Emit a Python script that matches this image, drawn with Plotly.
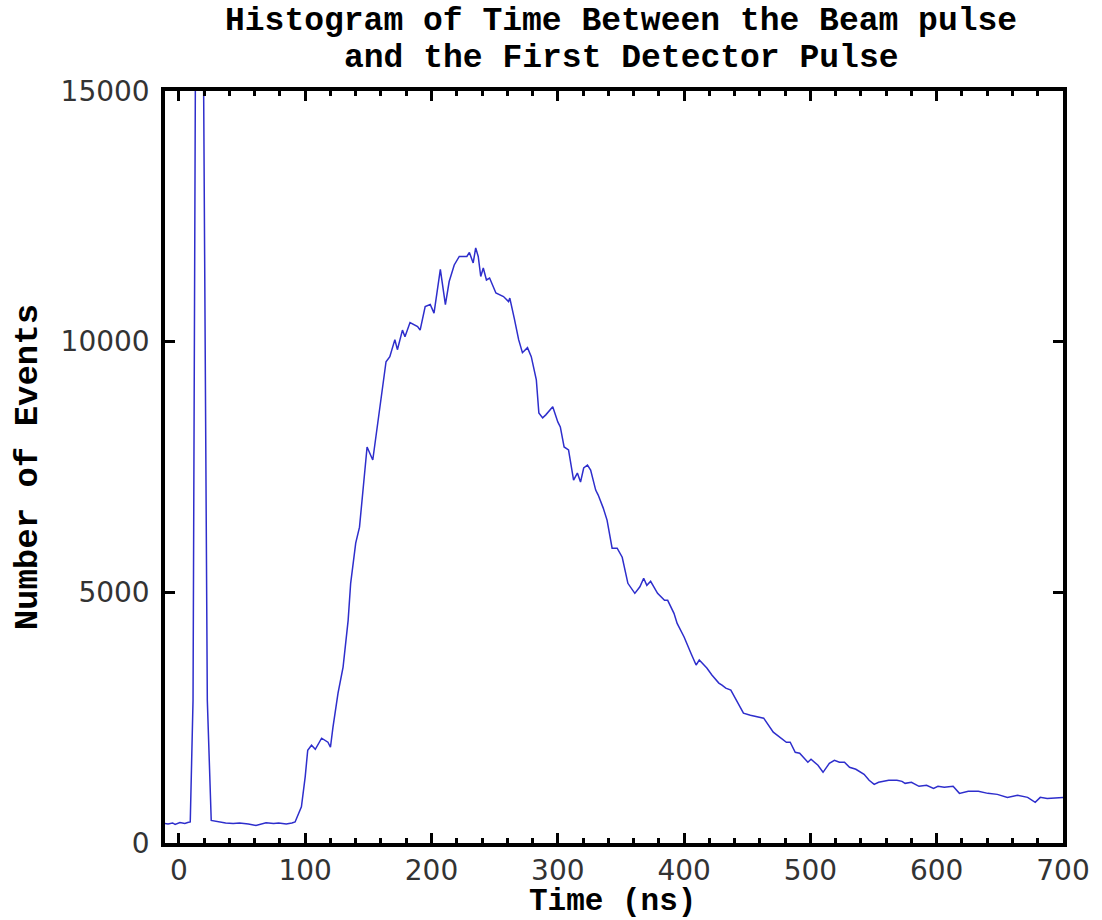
import plotly.graph_objects as go

# Data
time_ns = [-11, -8.6, -5, -3, 0.8, 4.7, 7, 9, 11.2, 13.1, 16, 19.6, 22.5, 25.6, 28, 33, 37, 43, 48, 55,
           61, 69, 75, 79, 85, 89.5, 92, 97, 100, 102, 105, 108, 113, 118, 120, 122, 126, 130, 134, 136,
           140, 143, 146, 149, 153.5, 156, 160, 164, 167, 171, 173, 177, 179, 183, 189, 191, 195, 199, 202, 207,
           211, 214, 218, 222, 228, 230, 233, 235, 237, 239, 241, 243.5, 246, 251, 257, 261, 262, 263, 265.5, 269,
           272, 276, 279, 283, 285, 288, 290.5, 296, 300, 302, 305, 308.5, 312.5, 315.5, 318, 320.5, 323.5, 326, 330, 332,
           336, 339, 343, 347, 351, 355.5, 361, 365, 368, 370.5, 373.5, 379, 384.5, 387, 392, 394.5, 400, 405.5, 409.5, 412,
           418, 422, 427.5, 430, 433, 437, 441.5, 447, 452.5, 457, 463, 470.6, 476, 481, 484, 488, 491.5, 498, 500.5, 506,
           510, 512, 515, 519, 523, 527, 531, 536, 542.5, 546.5, 550.5, 554, 562, 568.5, 572.5, 575, 580, 586, 592, 597.5,
           601, 606, 613, 618, 625, 633, 640.5, 648, 656, 664, 672, 678, 682, 687.5, 697.5, 700]

counts = [390, 380, 400, 370, 410, 390, 410, 420, 2850, 15000, 35000, 15000, 2850, 450, 440, 410, 400, 390, 400, 380,
          350, 405, 390, 400, 380, 400, 420, 720, 1320, 1850, 1950, 1870, 2090, 2010, 1910, 2310, 2990, 3510, 4440, 5180,
          5980, 6300, 7180, 7900, 7640, 8100, 8780, 9600, 9700, 10040, 9840, 10230, 10100, 10380, 10300, 10230, 10700, 10740, 10570, 11440,
          10740, 11200, 11530, 11700, 11700, 11780, 11570, 11870, 11700, 11300, 11470, 11230, 11270, 10970, 10900, 10800, 10870, 10740, 10470, 10040,
          9780, 9880, 9700, 9240, 8580, 8480, 8540, 8700, 8400, 8300, 7900, 7840, 7240, 7380, 7200, 7480, 7540, 7440, 7040, 6940,
          6680, 6440, 5880, 5880, 5700, 5180, 4980, 5110, 5280, 5140, 5220, 4980, 4840, 4840, 4580, 4380, 4110, 3780, 3550, 3650,
          3490, 3350, 3190, 3150, 3090, 3050, 2850, 2590, 2550, 2530, 2490, 2210, 2100, 2010, 2010, 1810, 1790, 1610, 1670, 1550,
          1410, 1490, 1590, 1650, 1610, 1610, 1510, 1470, 1370, 1250, 1170, 1210, 1250, 1250, 1230, 1190, 1210, 1130, 1150, 1090,
          1130, 1110, 1130, 990, 1030, 1030, 990, 970, 910, 950, 910, 810, 910, 890, 910, 910]

x_ticks = [0, 100, 200, 300, 400, 500, 600, 700]
y_ticks = [0, 5000, 10000, 15000]

title_line1 = "Histogram of Time Between the Beam pulse"
title_line2 = "and the First Detector Pulse"
x_title = "Time (ns)"
y_title = "Number of Events"

mono = "Liberation Mono, Courier New, monospace"
tickfont = dict(family="DejaVu Sans, sans-serif", size=28, color="#333333")
titlefont = dict(family=mono, size=33, color="black", weight="bold")
ytitlefont = dict(family=mono, size=34, color="black", weight="bold")
xtitlefont = dict(family=mono, size=31, color="black", weight="bold")

fig = go.Figure(go.Scatter(x=time_ns, y=counts, mode="lines",
                           line=dict(color="#2e2ecc", width=1.5), showlegend=False))

axis_common = dict(showline=True, linewidth=3.5, linecolor="black", mirror="ticks",
                   ticks="inside", ticklen=10, tickwidth=3, tickcolor="black",
                   showgrid=False, zeroline=False, tickfont=tickfont)

fig.update_xaxes(range=[-11, 700], tickvals=x_ticks, tickformat="d", ticklabelstandoff=0,
                 minor=dict(tick0=0, dtick=20, ticks="inside", ticklen=5, tickwidth=3, tickcolor="black"),
                 **axis_common)
fig.update_yaxes(range=[0, 15000], tickvals=y_ticks, tickformat="d", ticklabelstandoff=6, **axis_common)

W, H = 1102, 920
L, R, T, B = 165, 30, 91, 77
pw, ph = W - L - R, H - T - B

def px_to_paper(x, y):
    return (x - L) / pw, (H - B - y) / ph

annos = []
for text, (cx, cy), f in [(title_line1, (626, 21), titlefont), (title_line2, (626, 59), titlefont),
                          (x_title, (617, 901), xtitlefont)]:
    px, py = px_to_paper(cx, cy)
    annos.append(dict(text=text, x=px, y=py, xref="paper", yref="paper", showarrow=False,
                      xanchor="center", yanchor="middle", font=f))
px, py = px_to_paper(27, 467)
annos.append(dict(text=y_title, x=px, y=py, xref="paper", yref="paper", showarrow=False,
                  xanchor="center", yanchor="middle", textangle=-90, font=ytitlefont))

fig.update_layout(width=W, height=H, margin=dict(l=L, r=R, t=T, b=B),
                  plot_bgcolor="white", paper_bgcolor="white", annotations=annos)

fig.write_html("out.html")
